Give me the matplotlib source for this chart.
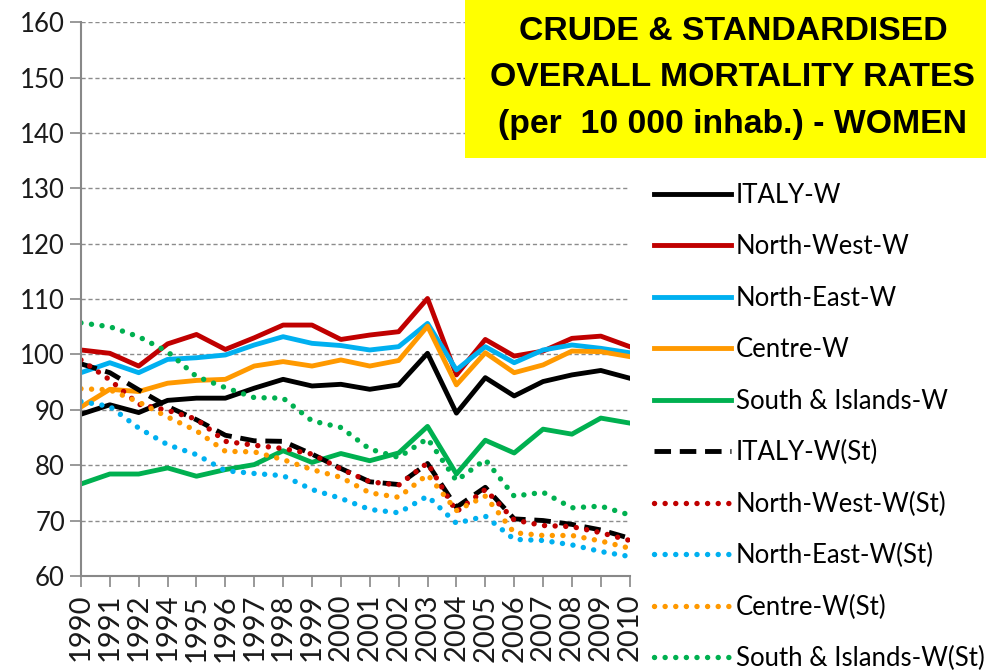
import matplotlib
matplotlib.use('Agg')
import matplotlib.pyplot as plt
from matplotlib.patches import Rectangle

years = ['1990', '1991', '1992', '1994', '1995', '1996', '1997', '1998', '1999', '2000',
         '2001', '2002', '2003', '2004', '2005', '2006', '2007', '2008', '2009', '2010']

# crude rates
italy = [89.2, 90.9, 89.5, 91.7, 92.1, 92.1, 93.9, 95.5, 94.3, 94.6,
         93.7, 94.5, 100.2, 89.4, 95.8, 92.5, 95.1, 96.3, 97.1, 95.7]
north_west = [100.8, 100.2, 97.9, 101.9, 103.6, 100.9, 103.0, 105.3, 105.3, 102.7,
              103.5, 104.1, 110.1, 96.3, 102.7, 99.7, 100.6, 102.9, 103.3, 101.4]
north_east = [96.7, 98.5, 96.7, 99.1, 99.4, 99.9, 101.7, 103.2, 102.0, 101.6,
              100.8, 101.4, 105.6, 97.2, 101.4, 98.5, 100.8, 101.7, 101.1, 100.3]
centre = [90.5, 93.7, 93.3, 94.8, 95.3, 95.5, 97.9, 98.7, 97.9, 99.0,
          97.9, 98.9, 105.1, 94.5, 100.3, 96.7, 98.1, 100.6, 100.5, 99.6]
south = [76.6, 78.4, 78.4, 79.5, 78.0, 79.2, 80.1, 82.6, 80.5, 82.1,
         80.8, 82.2, 87.0, 78.4, 84.5, 82.2, 86.5, 85.6, 88.5, 87.6]

# standardised rates
italy_st = [98.3, 96.7, 93.6, 90.6, 88.2, 85.4, 84.4, 84.3, 82.0, 79.4,
            77.0, 76.5, 80.3, 72.4, 76.0, 70.3, 70.0, 69.3, 68.3, 66.8]
north_west_st = [99.0, 95.4, 91.0, 89.9, 88.3, 84.3, 83.6, 83.0, 82.0, 79.3,
                 77.0, 76.4, 80.4, 71.6, 75.6, 70.1, 69.1, 68.9, 67.8, 66.4]
north_east_st = [91.5, 90.6, 86.7, 83.7, 81.9, 79.0, 78.5, 78.1, 75.6, 74.0,
                 72.0, 71.4, 74.4, 69.5, 70.8, 66.6, 66.4, 65.6, 64.4, 63.5]
centre_st = [93.8, 93.6, 91.4, 88.7, 86.2, 82.5, 82.4, 81.0, 79.2, 77.8,
             75.0, 74.2, 78.3, 71.8, 74.4, 67.8, 67.3, 67.3, 66.3, 65.0]
south_st = [105.7, 105.0, 103.2, 100.5, 96.0, 94.0, 92.2, 92.1, 88.0, 86.8,
            82.9, 81.4, 84.8, 77.2, 81.0, 74.4, 75.1, 72.3, 72.6, 71.0]

plt.rcParams['font.family'] = ['Lato', 'DejaVu Sans']

fig = plt.figure(figsize=(9.87, 6.72), dpi=100)
ax = fig.add_axes([0.082, 0.143, 0.556, 0.824])

x = list(range(len(years)))
lw = 3.5
dlw = 3.9
dots = (0, (0.01, 1.95))
dash = (0, (3.4, 1.8))

ax.plot(x, italy, color='black', lw=lw, label='ITALY-W')
ax.plot(x, north_west, color='#c00000', lw=lw, label='North-West-W')
ax.plot(x, north_east, color='#00b0f0', lw=lw, label='North-East-W')
ax.plot(x, centre, color='#ff9900', lw=lw, label='Centre-W')
ax.plot(x, south, color='#00b050', lw=lw, label='South & Islands-W')
ax.plot(x, italy_st, color='black', lw=lw, linestyle=dash, label='ITALY-W(St)')
ax.plot(x, north_west_st, color='#c00000', lw=dlw, linestyle=dots,
        dash_capstyle='round', label='North-West-W(St)')
ax.plot(x, north_east_st, color='#00b0f0', lw=dlw, linestyle=dots,
        dash_capstyle='round', label='North-East-W(St)')
ax.plot(x, centre_st, color='#ff9900', lw=dlw, linestyle=dots,
        dash_capstyle='round', label='Centre-W(St)')
ax.plot(x, south_st, color='#00b050', lw=dlw, linestyle=dots,
        dash_capstyle='round', label='South & Islands-W(St)')

ax.set_xlim(0, len(years) - 1)
ax.set_ylim(60, 160)
ax.set_yticks(range(60, 161, 10))
ax.set_xticks(x)
ax.set_xticklabels(years, rotation=90)
ax.tick_params(axis='both', labelsize=18.5, colors='#888888', labelcolor='#1a1a1a',
               length=8, width=1.2, direction='out')
ax.tick_params(axis='x', labelsize=21, pad=5)
ax.grid(axis='y', color='#8c8c8c', linestyle=(0, (3, 2)), lw=1)
ax.set_axisbelow(True)
for s in ['top', 'right']:
    ax.spines[s].set_visible(False)
for s in ['left', 'bottom']:
    ax.spines[s].set_color('#888888')
    ax.spines[s].set_linewidth(1.5)

fig.legend(loc='upper left', bbox_to_anchor=(0.663, 0.728), frameon=False,
           fontsize=18.5, handlelength=3.0, handletextpad=0.18, labelspacing=1.03,
           borderaxespad=0, borderpad=0)

# yellow title box
fig.add_artist(Rectangle((465 / 987, 1 - 158 / 672), 522 / 987, 158 / 672,
                         transform=fig.transFigure, facecolor='#ffff00',
                         edgecolor='none', zorder=5))
title_lines = ['CRUDE & STANDARDISED', 'OVERALL MORTALITY RATES',
               '(per  10 000 inhab.) - WOMEN']
baselines = [40, 86.5, 133]
for t, b in zip(title_lines, baselines):
    fig.text(733 / 987, 1 - b / 672, t, ha='center', va='baseline',
             fontsize=24.3, fontweight='bold', family='Liberation Sans', zorder=6)

fig.savefig('out.png', dpi=100)
